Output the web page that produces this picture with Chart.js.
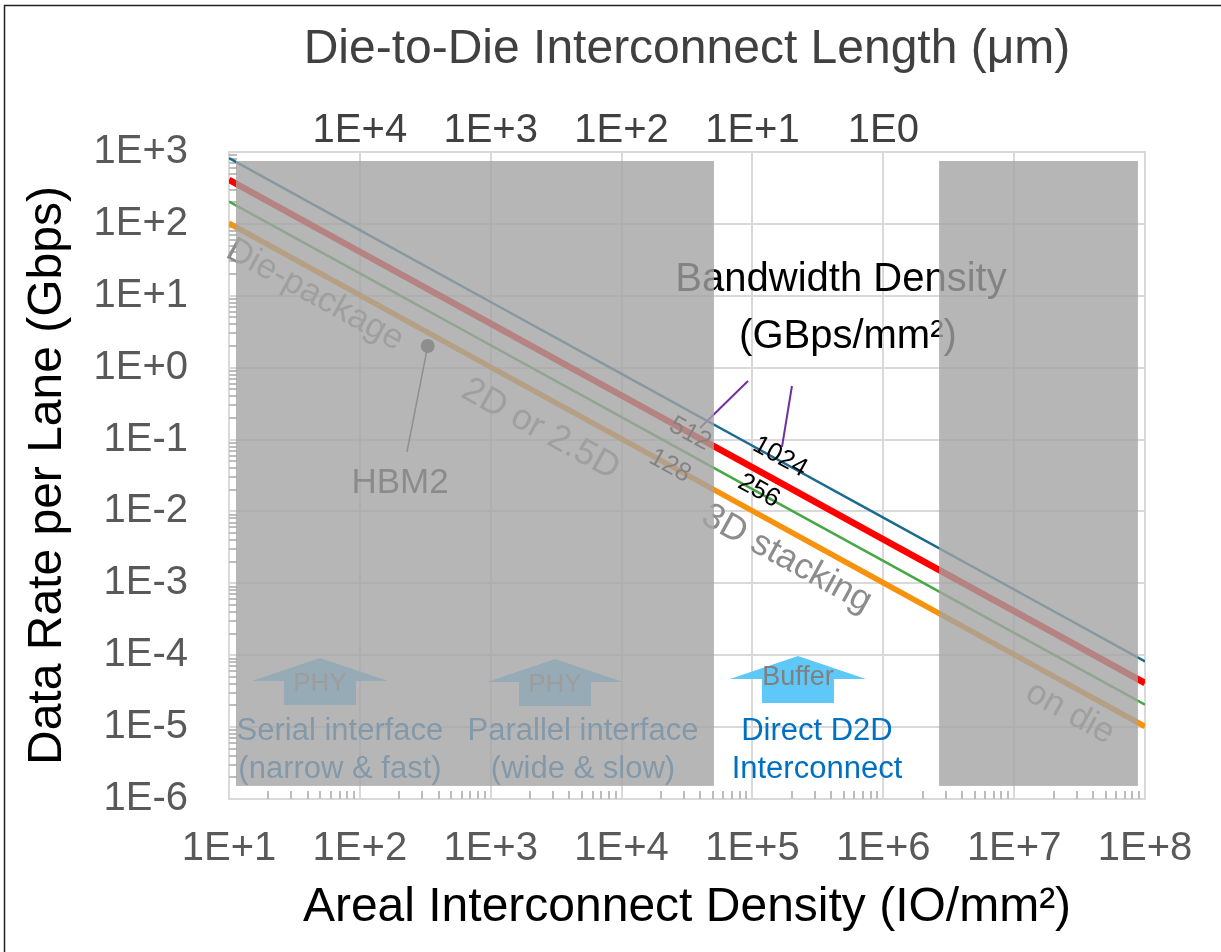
<!DOCTYPE html>
<html>
<head>
<meta charset="utf-8">
<script src="https://cdn.jsdelivr.net/npm/chart.js@4"></script>
<style>
  html, body { margin: 0; padding: 0; background: #fff; }
  canvas { display: block; }
</style>
</head>
<body>
<canvas id="chart" width="1221" height="952"></canvas>
<script>
// areal interconnect density (IO/mm2) and data rate per lane (Gbps) for each bandwidth density
const density = [1e1, 1e2, 1e3, 1e4, 1e5, 1e6, 1e7, 1e8]
const rate1024 = [820, 82, 8.2, 0.82, 0.082, 0.0082, 0.00082, 0.000082]
const rate512 = [410, 41, 4.1, 0.41, 0.041, 0.0041, 0.00041, 0.000041]
const rate256 = [205, 20.5, 2.05, 0.205, 0.0205, 0.00205, 0.000205, 0.0000205]
const rate128 = [102, 10.2, 1.02, 0.102, 0.0102, 0.00102, 0.000102, 0.0000102]
const hbm2 = [{ x: 330, y: 2 }]

// top axis: interconnect length labels
const lengthTickAt = [1e2, 1e3, 1e4, 1e5, 1e6]
const lengthTickLabels = ['1E+4', '1E+3', '1E+2', '1E+1', '1E0']

// shaded (packaging) ranges of density, and their vertical extent
const shadeRanges = [[11.3, 5.08e4], [2.67e6, 8.83e7]]
const shadeRate = [1.52e-6, 750]

const FONT = "'Liberation Sans', Arial, sans-serif"

function logTicks(lo, hi) {
    const t = []
    for (let e = lo; e <= hi; e++) {
        for (let m = 1; m <= 9; m++) {
            if (e === hi && m > 1) break
            t.push({ value: m * Math.pow(10, e), major: m === 1 })
        }
    }
    return t
}

function sci(v) {
    const e = Math.round(Math.log10(v))
    return '1E' + (e >= 0 ? '+' : '') + e
}

function isPow10(v) {
    const e = Math.log10(v)
    return Math.abs(e - Math.round(e)) < 1e-6
}

const gridColor = c => (c.tick && isPow10(c.tick.value)) ? '#d9d9d9' : 'rgba(0,0,0,0)'

// plot frame + minor tick marks inside the axes
const framePlugin = {
    id: 'frame',
    beforeDatasetsDraw(chart) {
        const { ctx, chartArea: a, scales } = chart
        ctx.save()
        ctx.strokeStyle = '#d9d9d9'
        ctx.lineWidth = 2
        ctx.strokeRect(a.left, a.top, a.right - a.left, a.bottom - a.top)

        ctx.strokeStyle = '#bdbdbd'
        ctx.lineWidth = 2
        ctx.beginPath()
        scales.x.ticks.forEach(t => {
            if (isPow10(t.value)) return
            const px = Math.round(scales.x.getPixelForValue(t.value))
            ctx.moveTo(px, a.bottom)
            ctx.lineTo(px, a.bottom - 8)
        })
        scales.y.ticks.forEach(t => {
            if (isPow10(t.value)) return
            const py = Math.round(scales.y.getPixelForValue(t.value))
            ctx.moveTo(a.left, py)
            ctx.lineTo(a.left + 8, py)
        })
        ctx.stroke()
        ctx.restore()
    },
    afterDraw(chart) {
        // outer picture frame
        const { ctx } = chart
        ctx.save()
        ctx.strokeStyle = '#222'
        ctx.lineWidth = 1.5
        ctx.beginPath()
        ctx.moveTo(4.5, chart.height)
        ctx.lineTo(4.5, 5.5)
        ctx.lineTo(chart.width, 5.5)
        ctx.stroke()
        ctx.restore()
    }
}

// annotations, then the translucent gray boxes on top of them
const notesPlugin = {
    id: 'notes',
    afterDatasetsDraw(chart) {
        const { ctx, scales } = chart
        const sx = scales.x, sy = scales.y
        const P = (lx, ly) => [sx.getPixelForValue(Math.pow(10, lx)), sy.getPixelForValue(Math.pow(10, ly))]
        const n = density.length - 1
        const ang = Math.atan2(
            sy.getPixelForValue(rate1024[n]) - sy.getPixelForValue(rate1024[0]),
            sx.getPixelForValue(density[n]) - sx.getPixelForValue(density[0]))

        function text(str, lx, ly, size, color, rot) {
            const [x, y] = P(lx, ly)
            ctx.save()
            ctx.translate(x, y)
            ctx.rotate(rot || 0)
            ctx.font = size + 'px ' + FONT
            ctx.fillStyle = color
            ctx.textAlign = 'center'
            ctx.textBaseline = 'middle'
            ctx.fillText(str, 0, 0)
            ctx.restore()
        }
        function seg(a, b, color, w) {
            const p = P(a[0], a[1]), q = P(b[0], b[1])
            ctx.save()
            ctx.strokeStyle = color
            ctx.lineWidth = w
            ctx.beginPath()
            ctx.moveTo(p[0], p[1])
            ctx.lineTo(q[0], q[1])
            ctx.stroke()
            ctx.restore()
        }
        function arrow(lx, ly, color) {
            const [x, y] = P(lx, ly)
            ctx.save()
            ctx.fillStyle = color
            ctx.beginPath()
            ctx.moveTo(x, y)
            ctx.lineTo(x + 68, y + 23)
            ctx.lineTo(x + 36, y + 23)
            ctx.lineTo(x + 36, y + 47)
            ctx.lineTo(x - 36, y + 47)
            ctx.lineTo(x - 36, y + 23)
            ctx.lineTo(x - 68, y + 23)
            ctx.closePath()
            ctx.fill()
            ctx.restore()
        }

        // bandwidth density callout
        seg([4.966, -0.185], [4.599, -0.839], '#7030a0', 2)
        seg([5.302, -0.255], [5.226, -1.103], '#7030a0', 2)
        text('Bandwidth Density', 5.677, 1.22, 40, '#000')
        text('(GBps/mm\u00b2)', 5.73, 0.427, 40, '#000')
        text('1024', 5.211, -1.242, 26, '#000', ang)
        text('256', 5.05, -1.715, 26, '#000', ang)
        text('512', 4.523, -0.922, 26, '#000', ang)
        text('128', 4.37, -1.367, 26, '#000', ang)

        // HBM2 point label
        const hp = P(Math.log10(hbm2[0].x), Math.log10(hbm2[0].y))
        const he = P(2.36, -1.172)
        ctx.save()
        ctx.strokeStyle = '#3a3a3a'
        ctx.lineWidth = 1.5
        ctx.beginPath()
        ctx.moveTo(hp[0], hp[1])
        ctx.lineTo(he[0], he[1])
        ctx.stroke()
        ctx.restore()
        text('HBM2', 2.307, -1.604, 35, '#2a2a2a')

        // packaging regimes along the lines
        const grey = '#8c8c8c'
        text('Die-package', 1.657, 1.011, 35, grey, ang)
        text('2D or 2.5D', 3.38, -0.86, 36, grey, ang)
        text('3D stacking', 5.262, -2.66, 36, grey, ang)
        text('on die', 7.427, -4.803, 35, grey, ang)

        // interface arrows
        arrow(1.695, -4.038, '#5ec8f8')
        arrow(3.491, -4.051, '#5ec8f8')
        arrow(5.348, -4.01, '#5ec8f8')
        text('PHY', 1.695, -4.395, 26, '#808080')
        text('PHY', 3.491, -4.408, 26, '#808080')
        text('Buffer', 5.348, -4.316, 27, '#808080')

        const blue = '#0070c0'
        text('Serial interface', 1.848, -5.067, 31, blue)
        text('(narrow & fast)', 1.848, -5.595, 31, blue)
        text('Parallel interface', 3.705, -5.067, 31, blue)
        text('(wide & slow)', 3.705, -5.595, 31, blue)
        text('Direct D2D', 5.493, -5.067, 31, blue)
        text('Interconnect', 5.493, -5.595, 31, blue)

        // translucent gray boxes
        ctx.save()
        ctx.fillStyle = 'rgba(164,164,164,0.8)'
        const yt = sy.getPixelForValue(shadeRate[1])
        const yb = sy.getPixelForValue(shadeRate[0])
        shadeRanges.forEach(r => {
            const x0 = sx.getPixelForValue(r[0])
            const x1 = sx.getPixelForValue(r[1])
            ctx.fillRect(x0, yt, x1 - x0, yb - yt)
        })
        ctx.restore()
    }
}

const pts = arr => density.map((x, i) => ({ x, y: arr[i] }))

new Chart(document.getElementById('chart'), {
    type: 'line',
    data: {
        datasets: [
            { label: '1024', data: pts(rate1024), borderColor: '#1a6b8e', borderWidth: 2.5, pointRadius: 0 },
            { label: '512', data: pts(rate512), borderColor: '#ff0000', borderWidth: 6.5, pointRadius: 0 },
            { label: '256', data: pts(rate256), borderColor: '#45a845', borderWidth: 2.5, pointRadius: 0 },
            { label: '128', data: pts(rate128), borderColor: '#f7920c', borderWidth: 5.5, pointRadius: 0 },
            { label: 'HBM2', data: hbm2, showLine: false, pointRadius: 7, pointBackgroundColor: '#3a3a3a', pointBorderWidth: 0 }
        ]
    },
    options: {
        responsive: false,
        animation: false,
        layout: { padding: { left: 0, right: 76, top: 0, bottom: 0 } },
        plugins: {
            legend: { display: false },
            tooltip: { enabled: false }
        },
        scales: {
            x: {
                type: 'logarithmic',
                position: 'bottom',
                min: 10,
                max: 1e8,
                afterBuildTicks: s => { s.ticks = logTicks(1, 8) },
                afterFit: s => { s.height = 153 },
                grid: { color: gridColor, lineWidth: 2, drawTicks: false },
                border: { display: false },
                ticks: {
                    autoSkip: false, maxRotation: 0, minRotation: 0, padding: 26,
                    color: '#595959', font: { size: 40, family: FONT },
                    callback: v => isPow10(v) ? sci(v) : ''
                },
                title: {
                    display: true, text: 'Areal Interconnect Density (IO/mm\u00b2)',
                    color: '#000', font: { size: 48, family: FONT },
                    padding: { top: 0, bottom: 15 }
                }
            },
            x2: {
                type: 'logarithmic',
                position: 'top',
                min: 10,
                max: 1e8,
                afterBuildTicks: s => { s.ticks = lengthTickAt.map(v => ({ value: v })) },
                afterFit: s => { s.height = 152 },
                grid: { display: false, drawTicks: false },
                border: { display: false },
                ticks: {
                    autoSkip: false, maxRotation: 0, minRotation: 0, padding: -3,
                    color: '#404040', font: { size: 40, family: FONT },
                    callback: (v, i) => lengthTickLabels[i]
                },
                title: {
                    display: true, text: 'Die-to-Die Interconnect Length (\u03bcm)',
                    color: '#404040', font: { size: 48, family: FONT },
                    padding: { top: 21, bottom: 0 }
                }
            },
            y: {
                type: 'logarithmic',
                position: 'left',
                min: 1e-6,
                max: 1e3,
                afterBuildTicks: s => { s.ticks = logTicks(-6, 3) },
                afterFit: s => { s.width = 229 },
                grid: { color: gridColor, lineWidth: 2, drawTicks: false },
                border: { display: false },
                ticks: {
                    autoSkip: false, padding: 41,
                    color: '#595959', font: { size: 40, family: FONT },
                    callback: v => isPow10(v) ? sci(v) : ''
                },
                title: {
                    display: true, text: 'Data Rate per Lane (Gbps)',
                    color: '#000', font: { size: 48, family: FONT },
                    padding: { top: 19, bottom: 0 }
                }
            }
        }
    },
    plugins: [framePlugin, notesPlugin]
})
</script>
</body>
</html>
